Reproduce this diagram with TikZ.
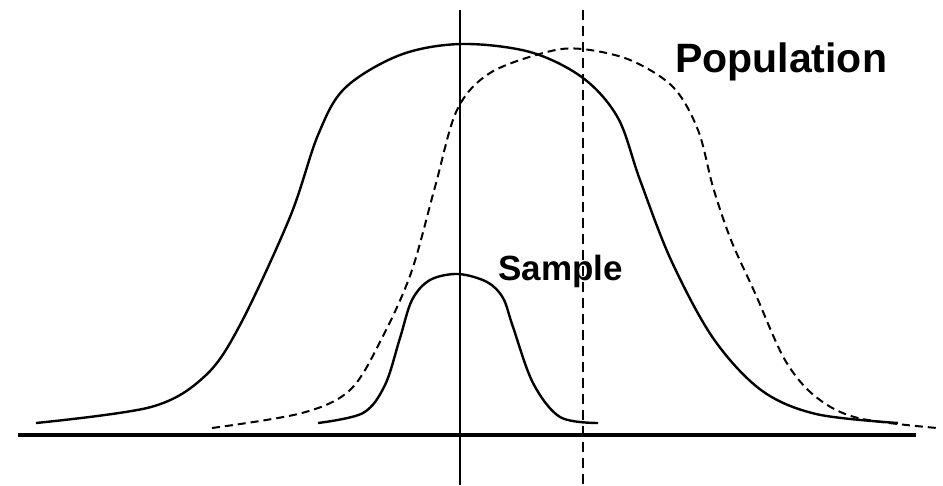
\documentclass[tikz,border=0pt]{standalone}
\usepackage{fontspec}
\newfontfamily\hvfont{Liberation Sans}
\tikzset{
  curve/.style={line width=2.4pt, line join=round},
  dcurve/.style={line width=2.0pt, dash pattern=on 8pt off 5pt},
  axisline/.style={line width=3.6pt},
  vline/.style={line width=2.8pt},
  dvline/.style={line width=2.0pt, dash pattern=on 10pt off 6pt},
  lbl/.style={inner sep=0pt, anchor=base west, font=\hvfont\bfseries}
}
\begin{document}
\begin{tikzpicture}[x=1pt,y=-1pt]
\useasboundingbox (0,0) rectangle (943,485);
% axes
\coordinate (axL) at (18,435);
\coordinate (axR) at (916,435);
\coordinate (vT) at (460,10);
\coordinate (vB) at (460,485);
\coordinate (dT) at (583,10);
\coordinate (dB) at (583,485);
\draw[axisline] (axL) -- (axR);
\draw[vline] (vT) -- (vB);
\draw[dvline] (dT) -- (dB);
% big solid curve
\draw[curve] plot[smooth, tension=0.55] coordinates {
 (36,423) (151,407) (205,376) (240,325) (290,217) (318,135) (345,88)
 (400,55) (461,44) (530,52) (583,78) (618,118) (640,180) (671,260)
 (713,338) (761,390) (816,414) (898,423)};
% dashed curve
\draw[dcurve] plot[smooth, tension=0.55] coordinates {
 (212,428) (302,413) (350,390) (381,340) (411,273) (435,187) (457,110)
 (490,73) (547,52) (582,49) (630,60) (673,87) (698,130) (713,187)
 (731,240) (755,293) (785,360) (816,397) (858,418) (937,428)};
% sample curve
\draw[curve] plot[smooth, tension=0.55] coordinates {
 (318,423) (363,413) (385,385) (400,338) (412,300) (430,280) (458,274)
 (487,282) (503,298) (513,327) (533,383) (560,417) (598,423)};
% labels
\node[lbl, font=\hvfont\bfseries\fontsize{41}{41}\selectfont] (pop) at (675,72) {Population};
\node[lbl, font=\hvfont\bfseries\fontsize{35}{35}\selectfont] (smp) at (498,280) {Sample};
\end{tikzpicture}
\end{document}
